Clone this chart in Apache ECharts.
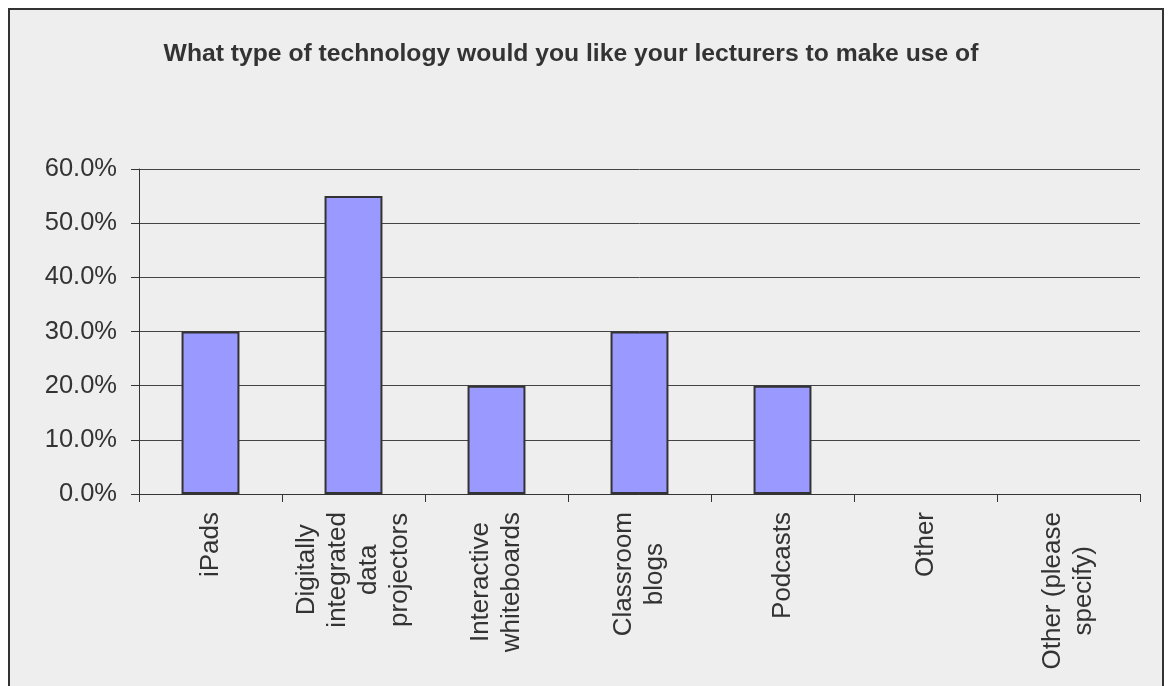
<!DOCTYPE html>
<html>
<head>
<meta charset="utf-8">
<script src="https://cdn.jsdelivr.net/npm/echarts@6/dist/echarts.min.js"></script>
<style>
  html, body { margin: 0; padding: 0; background: #ffffff; overflow: hidden; }
  #frame {
    position: absolute; left: 8px; top: 8px;
    width: 1152px; height: 690px;
    border-left: 2px solid #333; border-top: 2px solid #333; border-right: 2px solid #333;
    background: #eeeeee;
  }
  #chart { width: 1152px; height: 676px; }
</style>
</head>
<body>
<div id="frame"><div id="chart"></div></div>
<script>
// Survey question and answer options
const chartTitle = 'What type of technology would you like your lecturers to make use of';
const categories = [
  'iPads',
  'Digitally\nintegrated\ndata\nprojectors',
  'Interactive\nwhiteboards',
  'Classroom\nblogs',
  'Podcasts',
  'Other',
  'Other (please\nspecify)'
];
// Share of respondents choosing each option (percent)
const shares = [30, 55, 20, 30, 20, 0, 0];
// Value axis range and step (percent)
const axisMin = 0;
const axisMax = 60;
const axisStep = 10;

const FONT = '"Liberation Sans", Arial, sans-serif';
const INK = '#333333';

const chart = echarts.init(document.getElementById('chart'), null, { renderer: 'canvas' });

chart.setOption({
  backgroundColor: '#eeeeee',
  animation: false,
  title: {
    text: chartTitle,
    left: 556,
    top: 27,
    textAlign: 'center',
    textStyle: { fontFamily: FONT, fontSize: 24.7, fontWeight: 'bold', color: INK }
  },
  grid: { left: 129, right: 22, top: 159, bottom: 192, containLabel: false },
  xAxis: {
    type: 'category',
    data: categories,
    boundaryGap: true,
    axisLine: { show: true, lineStyle: { color: INK, width: 1 } },
    axisTick: { show: true, length: 8, lineStyle: { color: INK, width: 1 } },
    axisLabel: {
      interval: 0,
      rotate: 90,
      margin: 18,
      color: INK,
      fontFamily: FONT,
      fontSize: 26,
      lineHeight: 31,
      formatter: function (v) {
        return v.split('\n').map(function (line) { return '{c|' + line + '}'; }).join('\n');
      },
      rich: {
        c: { align: 'center', fontFamily: FONT, fontSize: 26, lineHeight: 31, color: INK }
      }
    }
  },
  yAxis: {
    type: 'value',
    min: axisMin,
    max: axisMax,
    interval: axisStep,
    axisLine: { show: true, lineStyle: { color: INK, width: 1 } },
    axisTick: { show: true, length: 8, inside: false, lineStyle: { color: INK, width: 1 } },
    splitLine: { show: true, lineStyle: { color: '#444444', width: 1 } },
    axisLabel: {
      margin: 22,
      color: INK,
      fontFamily: FONT,
      fontSize: 25.5,
      formatter: function (v) { return v.toFixed(1) + '%'; }
    }
  },
  series: [{
    type: 'bar',
    data: shares.map(function (v) {
      return v === 0 ? { value: v, itemStyle: { borderWidth: 0 } } : v;
    }),
    barWidth: '40.5%',
    itemStyle: { color: '#9999ff', borderColor: INK, borderWidth: 2 }
  }]
});
</script>
</body>
</html>
